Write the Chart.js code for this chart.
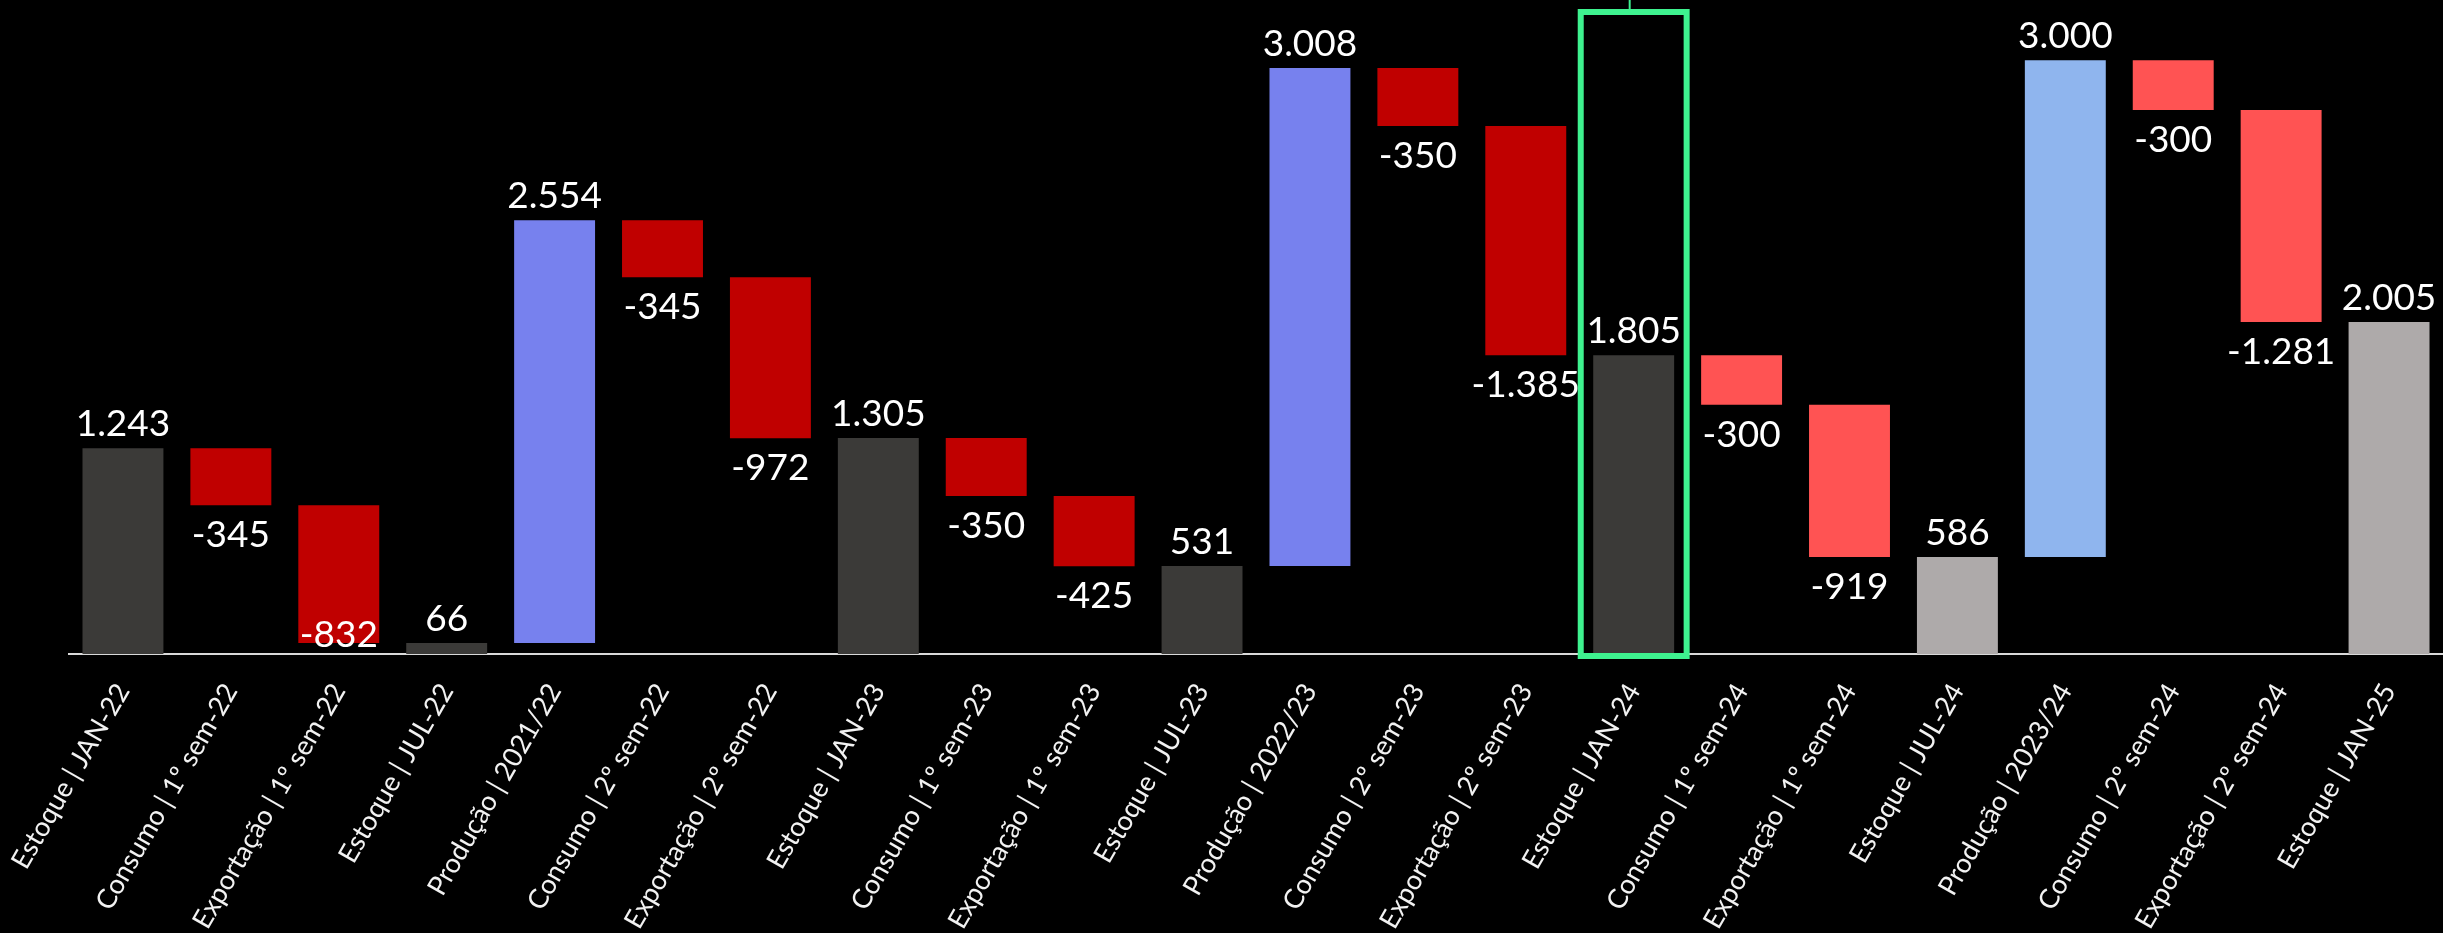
<!DOCTYPE html>
<html>
<head>
<meta charset="utf-8">
<script src="https://cdn.jsdelivr.net/npm/chart.js@4.4.1/dist/chart.umd.min.js"></script>
<style>
    html, body { margin: 0; padding: 0; background: #000; }
    #wrap { width: 2443px; height: 933px; }
</style>
</head>
<body>
<div id="wrap"><canvas id="chartBar"></canvas></div>
<script>
const categories = [
    "Estoque | JAN-22", "Consumo | 1º sem-22", "Exportação | 1º sem-22", "Estoque | JUL-22",
    "Produção | 2021/22", "Consumo | 2º sem-22", "Exportação | 2º sem-22", "Estoque | JAN-23",
    "Consumo | 1º sem-23", "Exportação | 1º sem-23", "Estoque | JUL-23", "Produção | 2022/23",
    "Consumo | 2º sem-23", "Exportação | 2º sem-23", "Estoque | JAN-24", "Consumo | 1º sem-24",
    "Exportação | 1º sem-24", "Estoque | JUL-24", "Produção | 2023/24", "Consumo | 2º sem-24",
    "Exportação | 2º sem-24", "Estoque | JAN-25"
];
const values = [
    1243, -345, -832, 66, 2554, -345, -972, 1305, -350, -425, 531,
    3008, -350, -1385, 1805, -300, -919, 586, 3000, -300, -1281, 2005
];
// "total" bars start at zero, the rest float on the running level
const isTotal = [
    true, false, false, true, false, false, false, true, false, false, true,
    false, false, false, true, false, false, true, false, false, false, true
];
const highlightIndex = 14;

const colors = [
    "#3b3a38", "#c00000", "#c00000", "#3b3a38", "#7781ee", "#c00000", "#c00000", "#3b3a38",
    "#c00000", "#c00000", "#3b3a38", "#7781ee", "#c00000", "#c00000", "#3b3a38", "#ff5353",
    "#ff5353", "#aeaaaa", "#8fb5ee", "#ff5353", "#ff5353", "#aeaaaa"
];

function buildRanges() {
    let level = 0;
    return values.map((v, i) => {
        if (isTotal[i]) {
            level = v;
            return [0, v];
        }
        const start = level;
        level = level + v;
        return [Math.min(start, level), Math.max(start, level)];
    });
}

function formatBR(v) {
    const s = Math.abs(v).toString().replace(/\B(?=(\d{3})+(?!\d))/g, ".");
    return (v < 0 ? "-" : "") + s;
}

const valueLabels = {
    id: "valueLabels",
    afterDatasetsDraw(chart) {
        const ctx = chart.ctx;
        const meta = chart.getDatasetMeta(0);
        const axisY = chart.scales.x.top;
        ctx.save();
        ctx.font = "37px Lato";
        ctx.fillStyle = "#ffffff";
        ctx.textAlign = "center";
        ctx.textBaseline = "alphabetic";
        meta.data.forEach((bar, i) => {
            const top = Math.min(bar.y, bar.base);
            const bottom = Math.max(bar.y, bar.base);
            const v = values[i];
            if (v >= 0) {
                ctx.fillText(formatBR(v), bar.x, top - 12);
            } else {
                const y = Math.min(bottom + 42, axisY - 7);
                ctx.fillText(formatBR(v), bar.x, y);
            }
        });
        ctx.restore();
    },
    afterDraw(chart) {
        const ctx = chart.ctx;
        const bar = chart.getDatasetMeta(0).data[highlightIndex];
        const half = chart.scales.x.width / categories.length / 2 - 1;
        ctx.save();
        ctx.strokeStyle = "#3ef28f";
        ctx.lineWidth = 6;
        ctx.strokeRect(bar.x - half, 12, half * 2, chart.scales.x.top + 2 - 12);
        ctx.lineWidth = 2;
        ctx.beginPath();
        ctx.moveTo(bar.x - 4, 0);
        ctx.lineTo(bar.x - 4, 10);
        ctx.stroke();
        ctx.restore();
    }
};

const configBarChart = {
    type: "bar",
    data: {
        labels: categories,
        datasets: [
            {
                data: buildRanges(),
                backgroundColor: colors,
                borderWidth: 0,
                barPercentage: 0.75,
                categoryPercentage: 1,
            },
        ],
    },
    options: {
        responsive: true,
        maintainAspectRatio: false,
        devicePixelRatio: 1,
        animation: false,
        layout: { padding: { left: 69, right: 0, top: 0, bottom: 0 } },
        plugins: {
            legend: { display: false },
            tooltip: { enabled: false },
        },
        scales: {
            x: {
                grid: { display: false, drawTicks: false },
                border: { display: true, color: "#d9d9d9", width: 2 },
                ticks: {
                    color: "#f2f2f2",
                    font: { family: "Lato", size: 27 },
                    minRotation: 60,
                    maxRotation: 60,
                    autoSkip: false,
                    padding: 24,
                },
                afterFit(scale) {
                    scale.height = 279;
                    scale.paddingLeft = 0;
                    scale.paddingRight = 0;
                },
            },
            y: {
                display: false,
                min: 0,
                max: 3950,
            },
        },
    },
    plugins: [valueLabels],
};

new Chart(document.getElementById("chartBar"), configBarChart);
</script>
</body>
</html>
